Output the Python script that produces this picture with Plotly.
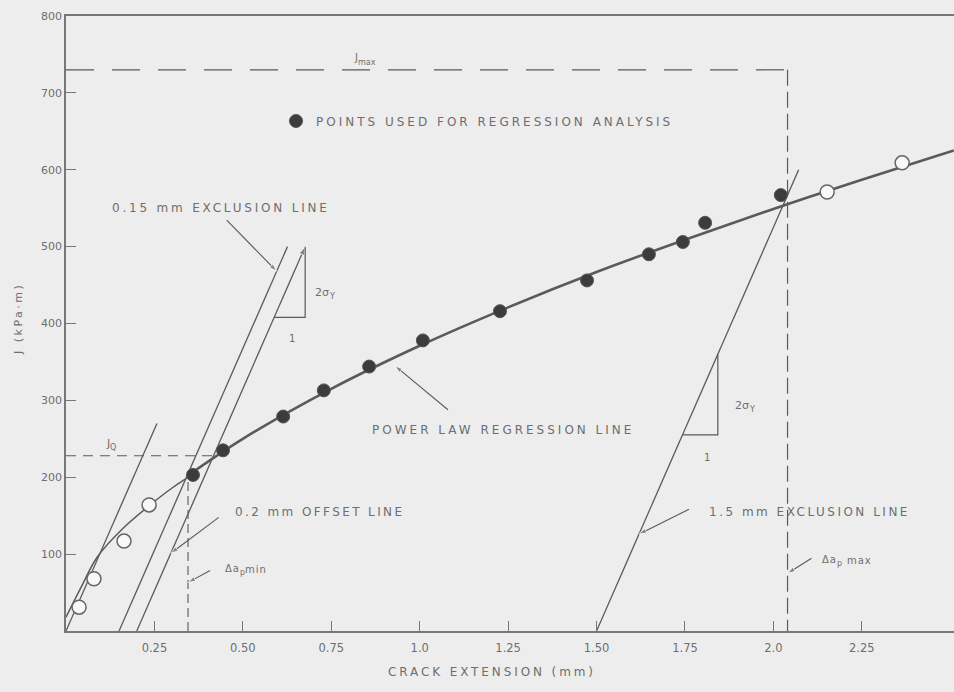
import plotly.graph_objects as go

# ---------------- data (crack extension mm, J kPa·m) ----------------
open_da = [0.037, 0.079, 0.164, 0.235, 2.152, 2.364]
open_j = [31, 68, 117, 164, 571, 609]

reg_da = [0.359, 0.444, 0.614, 0.729, 0.857, 1.009, 1.227, 1.473, 1.648, 1.744, 1.807, 2.021]
reg_j = [203, 235, 279, 313, 344, 378, 416, 456, 490, 506, 531, 567]

curve_da = [0.0, 0.044, 0.088, 0.160, 0.238, 0.300, 0.356]
curve_j = [18, 58, 96, 133, 164, 186, 203]

fit_da = [0.35, 0.5, 0.75, 1.0, 1.25, 1.5, 1.75, 2.0, 2.25, 2.51]
fit_j = [204, 250, 315, 371, 421, 467, 509, 549, 587, 625]

two_sigma_y = 1050            # slope of blunting / exclusion lines (kPa·m per mm)
line_offsets = [0.0, 0.15, 0.20, 1.50]
line_top_j = [270, 500, 500, 600]

tri1_j = [408, 500]           # slope triangle on the 0.2 mm offset line
tri2_j = [255, 360]           # slope triangle on the 1.5 mm exclusion line

j_max = 730
da_max = 2.04
j_q = 228
da_min = 0.345
da_min_top = 195

x_ticks = [0.25, 0.50, 0.75, 1.0, 1.25, 1.50, 1.75, 2.0, 2.25]
x_tick_labels = ["0.25", "0.50", "0.75", "1.0", "1.25", "1.50", "1.75", "2.0", "2.25"]
y_ticks = [100, 200, 300, 400, 500, 600, 700, 800]
y_tick_labels = ["100", "200", "300", "400", "500", "600", "700", "800"]

# ---------------- style ----------------
BG = "#ededed"
LINE = "#5a5a5a"
TEXT = "#6e6e6e"
FONT = "DejaVu Sans"
W, H = 954, 692
L, R, T, B = 66, 0, 16, 61
XMAX = 2.5106
YMAX = 800
SX = (W - L - R) / XMAX      # px per mm
SY = (H - T - B) / YMAX      # px per kPa·m


def sp(t, ls=2.8):
    return f'<span style="letter-spacing:{ls}px">{t}</span>'


def xpap(px):
    return (px - L) / (W - L - R)


def ypap(py):
    return (H - B - py) / (H - T - B)


def on_line(off, j):
    return off + j / two_sigma_y


fig = go.Figure()

# construction lines (blunting, exclusion, offset)
for off, jt in zip(line_offsets, line_top_j):
    is_offset = (off == 0.20)
    fig.add_trace(go.Scatter(
        x=[off, on_line(off, jt)], y=[0, jt],
        mode="lines+markers" if is_offset else "lines",
        line=dict(color=LINE, width=1.3),
        marker=dict(symbol="arrow", size=[0, 9], angleref="previous", color=LINE),
        hoverinfo="skip", showlegend=False))

# slope triangles
for off, (j0, j1) in [(0.20, tri1_j), (1.50, tri2_j)]:
    fig.add_trace(go.Scatter(x=[on_line(off, j0), on_line(off, j1), on_line(off, j1)],
                             y=[j0, j0, j1], mode="lines",
                             line=dict(color=LINE, width=1.2), hoverinfo="skip", showlegend=False))

# dashed reference lines
fig.add_trace(go.Scatter(x=[0, da_max], y=[j_max, j_max], mode="lines",
                         line=dict(color=LINE, width=1.2, dash="28px,18px"),
                         hoverinfo="skip", showlegend=False))
fig.add_trace(go.Scatter(x=[da_max, da_max], y=[j_max, 0], mode="lines",
                         line=dict(color=LINE, width=1.2, dash="16px,6px"),
                         hoverinfo="skip", showlegend=False))
fig.add_trace(go.Scatter(x=[0, on_line(0.20, j_q)], y=[j_q, j_q], mode="lines",
                         line=dict(color=LINE, width=1.2, dash="10px,7px"),
                         hoverinfo="skip", showlegend=False))
fig.add_trace(go.Scatter(x=[da_min, da_min], y=[0, da_min_top], mode="lines",
                         line=dict(color=LINE, width=1.1, dash="9px,5px"),
                         hoverinfo="skip", showlegend=False))

# initial curve through blunting data
fig.add_trace(go.Scatter(x=curve_da, y=curve_j, mode="lines",
                         line=dict(color=LINE, width=1.5, shape="spline"),
                         hoverinfo="skip", showlegend=False))
# power law regression line
fig.add_trace(go.Scatter(x=fit_da, y=fit_j, mode="lines",
                         line=dict(color=LINE, width=2.6, shape="spline"),
                         hoverinfo="skip", showlegend=False))


# leader arrows: head in data units, tail offset in pixels
def arrow(x, y, dxp, dyp):
    fig.add_trace(go.Scatter(
        x=[x + dxp / SX, x], y=[y - dyp / SY, y], mode="lines+markers",
        line=dict(color=LINE, width=1.1),
        marker=dict(symbol="arrow", size=[0, 8], angleref="previous", color=LINE),
        hoverinfo="skip", showlegend=False))


arrow(on_line(0.15, 468), 468, -50, -51)
arrow(on_line(0.20, 101), 101, 48, -36)
arrow(da_min, 63, 22, -12)
arrow(0.93, 345, 53, 44)
arrow(on_line(1.50, 126), 126, 50, -25)
arrow(da_max, 75, 24, -15)

# data points
fig.add_trace(go.Scatter(x=open_da, y=open_j, mode="markers",
                         marker=dict(size=14, color="#f8f8f8", line=dict(color="#666666", width=1.5)),
                         showlegend=False))
fig.add_trace(go.Scatter(x=reg_da, y=reg_j, mode="markers",
                         marker=dict(size=13, color="#3c3c3c", line=dict(color="#555555", width=1)),
                         name=sp("POINTS USED FOR REGRESSION ANALYSIS", 3.0), showlegend=True))

ann = []


def text(t, px, py, size=12, xanchor="left", ls=2.8, angle=0):
    ann.append(dict(text=sp(t, ls) if ls else t, xref="paper", yref="paper",
                    x=xpap(px), y=ypap(py), xanchor=xanchor, yanchor="middle",
                    showarrow=False, textangle=angle,
                    font=dict(family=FONT, size=size, color=TEXT)))


text("0.15 mm EXCLUSION LINE", 110, 208)
text("2σ", 313, 292, size=11, ls=0)
text("Y", 327, 296, size=8, ls=0)
text("1", 292, 338, size=10, xanchor="center", ls=0)
text("J", 104, 443, size=11, ls=0)
text("Q", 108, 447, size=8, ls=0)
text("0.2 mm OFFSET LINE", 233, 512, ls=2.4)
text("Δa", 223, 568, size=10, ls=1)
text("p", 238, 572, size=8, ls=0)
text("min", 243, 569, size=10, ls=1)
text("POWER LAW REGRESSION LINE", 370, 430, ls=3.0)
text("2σ", 733, 405, size=11, ls=0)
text("Y", 747, 409, size=8, ls=0)
text("1", 707, 457, size=10, xanchor="center", ls=0)
text("1.5 mm EXCLUSION LINE", 707, 512, ls=2.5)
text("Δa", 820, 559, size=10, ls=1)
text("p", 835, 563, size=8, ls=0)
text("max", 845, 560, size=10, ls=1)
text("J", 352, 58, size=10, ls=0)
text("max", 356, 62, size=8, ls=0)
text("CRACK EXTENSION (mm)", 492, 672, xanchor="center", ls=2.9)
text("J (kPa·m)", 18, 319, size=11, xanchor="center", ls=2.5, angle=-90)

fig.update_layout(
    width=W, height=H, autosize=False,
    margin=dict(l=L, r=R, t=T, b=B, pad=0),
    paper_bgcolor=BG, plot_bgcolor=BG,
    font=dict(family=FONT, color=TEXT, size=11),
    annotations=ann,
    showlegend=True,
    legend=dict(x=xpap(276), y=ypap(121), xanchor="left", yanchor="middle",
                bgcolor="rgba(0,0,0,0)", borderwidth=0,
                font=dict(family=FONT, size=12, color=TEXT)),
    xaxis=dict(range=[0, XMAX], showgrid=False, zeroline=False,
               showline=True, linecolor="#777777", linewidth=1.5, mirror=True,
               ticks="inside", ticklen=10, tickwidth=1.3, tickcolor="#777777",
               tickvals=x_ticks, ticktext=x_tick_labels, ticklabelstandoff=5,
               tickfont=dict(family=FONT, size=11.5, color=TEXT)),
    yaxis=dict(range=[0, YMAX], showgrid=False, zeroline=False,
               showline=True, linecolor="#777777", linewidth=1.5,
               ticks="inside", ticklen=10, tickwidth=1.3, tickcolor="#777777",
               tickvals=y_ticks, ticktext=y_tick_labels,
               tickfont=dict(family=FONT, size=11, color=TEXT)),
)

fig.write_html("out.html")
